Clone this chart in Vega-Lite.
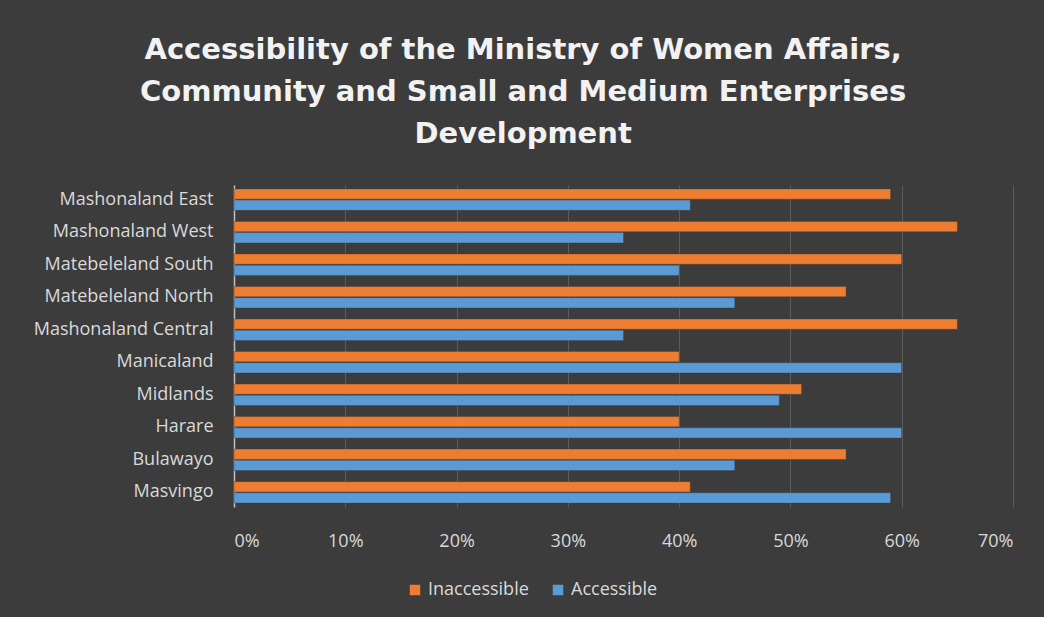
{
  "$schema": "https://vega.github.io/schema/vega-lite/v6.json",
  "width": 779,
  "height": 322,
  "padding": {"left": 33, "top": 36, "right": 31, "bottom": 19},
  "background": "#3c3c3c",
  "title": {
    "text": ["Accessibility of the Ministry of Women Affairs,", "Community and Small and Medium Enterprises", "Development"],
    "font": "DejaVu Sans",
    "fontSize": 29,
    "fontWeight": "bold",
    "color": "#f2f2f2",
    "lineHeight": 42,
    "anchor": "middle",
    "frame": "bounds",
    "offset": 36
  },
  "data": {
    "values": [
      {"region": "Mashonaland East", "status": "Inaccessible", "pct": 0.59},
      {"region": "Mashonaland East", "status": "Accessible", "pct": 0.41},
      {"region": "Mashonaland West", "status": "Inaccessible", "pct": 0.65},
      {"region": "Mashonaland West", "status": "Accessible", "pct": 0.35},
      {"region": "Matebeleland South", "status": "Inaccessible", "pct": 0.60},
      {"region": "Matebeleland South", "status": "Accessible", "pct": 0.40},
      {"region": "Matebeleland North", "status": "Inaccessible", "pct": 0.55},
      {"region": "Matebeleland North", "status": "Accessible", "pct": 0.45},
      {"region": "Mashonaland Central", "status": "Inaccessible", "pct": 0.65},
      {"region": "Mashonaland Central", "status": "Accessible", "pct": 0.35},
      {"region": "Manicaland", "status": "Inaccessible", "pct": 0.40},
      {"region": "Manicaland", "status": "Accessible", "pct": 0.60},
      {"region": "Midlands", "status": "Inaccessible", "pct": 0.51},
      {"region": "Midlands", "status": "Accessible", "pct": 0.49},
      {"region": "Harare", "status": "Inaccessible", "pct": 0.40},
      {"region": "Harare", "status": "Accessible", "pct": 0.60},
      {"region": "Bulawayo", "status": "Inaccessible", "pct": 0.55},
      {"region": "Bulawayo", "status": "Accessible", "pct": 0.45},
      {"region": "Masvingo", "status": "Inaccessible", "pct": 0.41},
      {"region": "Masvingo", "status": "Accessible", "pct": 0.59}
    ]
  },
  "mark": {"type": "bar", "stroke": "#3a3a3a", "strokeWidth": 0.6, "strokeOpacity": 0.6},
  "encoding": {
    "y": {
      "field": "region",
      "type": "nominal",
      "sort": ["Mashonaland East", "Mashonaland West", "Matebeleland South", "Matebeleland North", "Mashonaland Central", "Manicaland", "Midlands", "Harare", "Bulawayo", "Masvingo"],
      "scale": {"paddingInner": 0.34, "paddingOuter": 0.12},
      "axis": {
        "title": null,
        "ticks": false,
        "domainColor": "#bfbfbf",
        "domainWidth": 1.5,
        "labelPadding": 21,
        "labelFont": "Open Sans",
        "labelFontSize": 18,
        "labelColor": "#d9d9d9",
        "grid": false
      }
    },
    "yOffset": {
      "field": "status",
      "type": "nominal",
      "sort": ["Inaccessible", "Accessible"],
      "scale": {"paddingInner": 0.08}
    },
    "x": {
      "field": "pct",
      "type": "quantitative",
      "scale": {"domain": [0, 0.7], "nice": false},
      "axis": {
        "title": null,
        "format": ".0%",
        "values": [0, 0.1, 0.2, 0.3, 0.4, 0.5, 0.6, 0.7],
        "domain": false,
        "ticks": false,
        "gridColor": "#5c5c5c",
        "gridWidth": 1,
        "labelPadding": 25,
        "labelFont": "Open Sans",
        "labelFontSize": 18,
        "labelColor": "#d9d9d9"
      }
    },
    "color": {
      "field": "status",
      "type": "nominal",
      "scale": {"domain": ["Inaccessible", "Accessible"], "range": ["#ed7d31", "#5b9bd5"]},
      "legend": {
        "title": null,
        "orient": "none",
        "direction": "horizontal",
        "legendX": 172,
        "legendY": 396,
        "symbolType": "square",
        "symbolSize": 110,
        "symbolStrokeWidth": 0,
        "labelFont": "Open Sans",
        "labelFontSize": 18,
        "labelColor": "#d9d9d9",
        "columnPadding": 20,
        "labelOffset": 4
      }
    }
  },
  "config": {
    "view": {"stroke": null}
  }
}
